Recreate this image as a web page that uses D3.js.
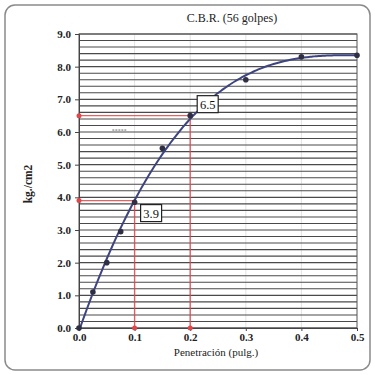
<!DOCTYPE html>
<html>
<head>
<meta charset="utf-8">
<script src="https://cdn.jsdelivr.net/npm/d3@7/dist/d3.min.js"></script>
<style>
  html, body { margin: 0; padding: 0; background: #fff; }
  svg { display: block; }
</style>
</head>
<body>
<svg id="chart" width="375" height="375"></svg>
<script>
// Penetration readings (inches) and loads (kg/cm2) for the 56-blow specimen
const penetration = [0, 0.025, 0.05, 0.075, 0.1, 0.15, 0.2, 0.3, 0.4, 0.5];
const load = [0, 1.1, 2.0, 2.95, 3.85, 5.5, 6.5, 7.6, 8.3, 8.35];

// CBR read-off points at 0.1" and 0.2"
const readPen = [0.1, 0.2];
const readLoad = [3.9, 6.5];

const xTicks = [0, 0.1, 0.2, 0.3, 0.4, 0.5];
const yTicks = [0, 1, 2, 3, 4, 5, 6, 7, 8, 9];
const yGrid = d3.range(0, 46).map(i => i / 5);

const serif = '"Liberation Serif", "DejaVu Serif", serif';
const svg = d3.select("#chart");

// outer rounded frame
svg.append("rect")
  .attr("x", 5).attr("y", 5).attr("width", 365).attr("height", 365)
  .attr("rx", 10).attr("ry", 10)
  .attr("fill", "#fff").attr("stroke", "#8a8a8a").attr("stroke-width", 1.5);

const x = d3.scaleLinear().domain([0, 0.5]).range([79, 357]);
const y = d3.scaleLinear().domain([0, 9]).range([328, 34]);

// light vertical grid
svg.append("g").selectAll("line").data(xTicks.slice(1, -1)).join("line")
  .attr("x1", d => x(d)).attr("x2", d => x(d))
  .attr("y1", y(9)).attr("y2", y(0))
  .attr("stroke", "#dcdcdc").attr("stroke-width", 0.8);

// horizontal grid every 0.2
svg.append("g").selectAll("line").data(yGrid).join("line")
  .attr("x1", x(0)).attr("x2", x(0.5))
  .attr("y1", d => y(d)).attr("y2", d => y(d))
  .attr("stroke", "#4a4a4a").attr("stroke-width", 1.1);

// plot border
svg.append("rect")
  .attr("x", x(0)).attr("y", y(9))
  .attr("width", x(0.5) - x(0)).attr("height", y(0) - y(9))
  .attr("fill", "none").attr("stroke", "#555").attr("stroke-width", 1);

// axes
const yAxis = svg.append("g").attr("transform", `translate(${x(0)},0)`)
  .call(d3.axisLeft(y).tickValues(yTicks).tickFormat(d3.format(".1f")).tickSize(4));
const xAxis = svg.append("g").attr("transform", `translate(0,${y(0)})`)
  .call(d3.axisBottom(x).tickValues(xTicks).tickFormat(d3.format(".1f")).tickSize(3));
[yAxis, xAxis].forEach(a => {
  a.attr("font-family", null);
  a.select(".domain").attr("stroke", "#444");
  a.selectAll(".tick line").attr("stroke", "#444");
  a.selectAll("text")
    .style("font-family", serif)
    .style("font-size", "11px").style("font-weight", "bold").attr("fill", "#222");
});
yAxis.selectAll("text").attr("x", -8);
xAxis.selectAll("text").attr("y", 5);

// small dashed mark inside plot
svg.append("line")
  .attr("x1", x(0.06)).attr("x2", x(0.085))
  .attr("y1", y(6.06)).attr("y2", y(6.06))
  .attr("stroke", "#666").attr("stroke-width", 1).attr("stroke-dasharray", "2,1");

// red read-off guide lines
const red = "#e0474c";
const guides = svg.append("g");
readPen.forEach((p, i) => {
  guides.append("line")
    .attr("x1", x(0)).attr("x2", x(p))
    .attr("y1", y(readLoad[i])).attr("y2", y(readLoad[i]))
    .attr("stroke", red).attr("stroke-width", 1.4).attr("opacity", 0.85);
  guides.append("line")
    .attr("x1", x(p)).attr("x2", x(p))
    .attr("y1", y(readLoad[i])).attr("y2", y(0))
    .attr("stroke", red).attr("stroke-width", 1.4).attr("opacity", 0.85);
  guides.append("circle").attr("cx", x(0)).attr("cy", y(readLoad[i])).attr("r", 2.5).attr("fill", red);
  guides.append("circle").attr("cx", x(p)).attr("cy", y(0)).attr("r", 2.5).attr("fill", red);
});

// least-squares polynomial trend through the readings
function polyFit(xs, ys, deg) {
  const n = deg + 1;
  const A = Array.from({length: n}, () => new Array(n + 1).fill(0));
  xs.forEach((xv, k) => {
    for (let i = 0; i < n; i++) {
      for (let j = 0; j < n; j++) A[i][j] += Math.pow(xv, i + j);
      A[i][n] += ys[k] * Math.pow(xv, i);
    }
  });
  for (let i = 0; i < n; i++) {
    let m = i;
    for (let r = i + 1; r < n; r++) if (Math.abs(A[r][i]) > Math.abs(A[m][i])) m = r;
    [A[i], A[m]] = [A[m], A[i]];
    for (let r = 0; r < n; r++) {
      if (r === i) continue;
      const f = A[r][i] / A[i][i];
      for (let c = i; c <= n; c++) A[r][c] -= f * A[i][c];
    }
  }
  return A.map((row, i) => row[n] / row[i]);
}
const coef = polyFit(penetration, load, 3);
const trend = xv => coef.reduce((s, c, i) => s + c * Math.pow(xv, i), 0);
const trendPts = d3.range(0, 0.5001, 0.005).map(xv => [xv, trend(xv)]);

svg.append("path")
  .datum(trendPts)
  .attr("fill", "none").attr("stroke", "#3d4480").attr("stroke-width", 2)
  .attr("d", d3.line().x(d => x(d[0])).y(d => y(d[1])).curve(d3.curveMonotoneX));

// measured points
svg.append("g").selectAll("circle").data(penetration).join("circle")
  .attr("cx", d => x(d)).attr("cy", (d, i) => y(load[i]))
  .attr("r", 2.8).attr("fill", "#2e2f45");

// value boxes
const boxes = [
  {p: readPen[1], v: readLoad[1], dx: 7, dy: -20},
  {p: readPen[0], v: readLoad[0], dx: 6, dy: 4}
];
boxes.forEach(b => {
  const g = svg.append("g").attr("transform", `translate(${x(b.p) + b.dx},${y(b.v) + b.dy})`);
  g.append("rect").attr("width", 21).attr("height", 17)
    .attr("fill", "#fff").attr("stroke", "#222").attr("stroke-width", 1.2);
  g.append("text").attr("x", 10.5).attr("y", 13).attr("text-anchor", "middle")
    .style("font-family", serif).style("font-size", "12.5px").attr("fill", "#111")
    .text(d3.format(".1f")(b.v));
});

// titles
svg.append("text").attr("x", 232).attr("y", 22).attr("text-anchor", "middle")
  .style("font-family", serif).style("font-size", "12px").attr("fill", "#222")
  .text("C.B.R. (56 golpes)");
svg.append("text").attr("x", 216).attr("y", 356).attr("text-anchor", "middle")
  .style("font-family", serif).style("font-size", "11px").attr("fill", "#222")
  .text("Penetración (pulg.)");
svg.append("text")
  .attr("transform", `translate(32,${(y(0) + y(9)) / 2 + 3}) rotate(-90)`)
  .attr("text-anchor", "middle")
  .style("font-family", serif).style("font-size", "11.5px").style("font-weight", "bold").attr("fill", "#222")
  .text("kg./cm2");
</script>
</body>
</html>
